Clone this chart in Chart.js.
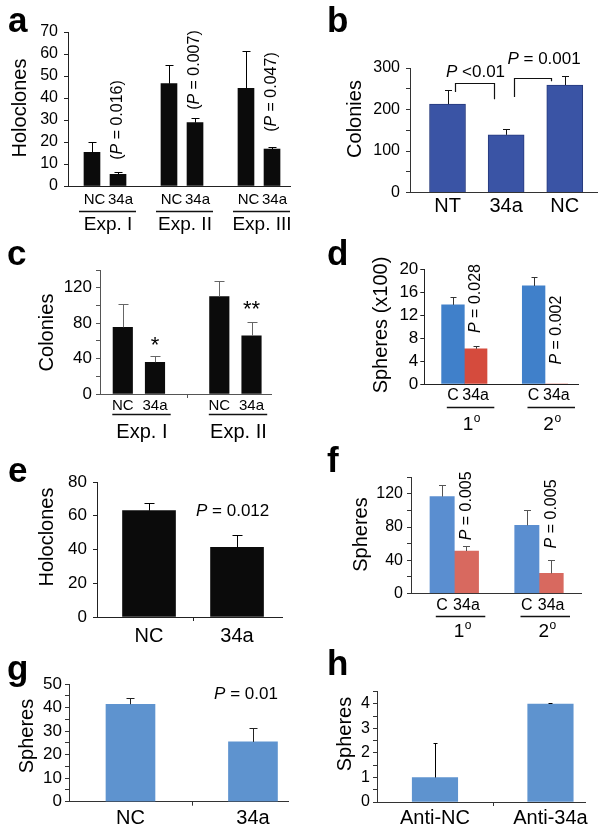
<!DOCTYPE html>
<html>
<head>
<meta charset="utf-8">
<title>miR-34a sphere / colony panels</title>
<script src="https://cdn.jsdelivr.net/npm/chart.js@4.4.1/dist/chart.umd.min.js"></script>
<style>
  html, body { margin: 0; padding: 0; background: #fff; }
  #wrap { position: relative; width: 603px; height: 831px; overflow: hidden; background: #fff; }
  #wrap canvas { position: absolute; left: 0; top: 0; }
</style>
</head>
<body>
<div id="wrap"></div>
<script>
// ================= DATA =================
// Panel a – holoclones
const aGroups = ['Exp. I', 'Exp. II', 'Exp. III'];
const aSeriesNames = ['NC', '34a'];
const aNC = [15.3, 46.5, 44.4];
const aNCErr = [4.5, 8.5, 17.0];
const a34a = [5.3, 28.8, 16.8];
const a34aErr = [1.2, 2.0, 1.1];
const aYTicks = [0, 10, 20, 30, 40, 50, 60, 70];
const aPValues = ['(P = 0.016)', '(P = 0.007)', '(P = 0.047)'];
const aPHeights = [30, 52.7, 42.7];

// Panel b – colonies
const bCats = ['NT', '34a', 'NC'];
const bColonies = [213, 139, 259];
const bErr = [34, 14, 22];
const bYTicks = [0, 50, 100, 150, 200, 250, 300];
const bYLabels = [0, 100, 200, 300];
const bPValues = ['P <0.01', 'P = 0.001'];

// Panel c – colonies
const cGroups = ['Exp. I', 'Exp. II'];
const cSeriesNames = ['NC', '34a'];
const cNC = [75.3, 109.9];
const cNCErr = [26.0, 18.0];
const c34a = [35.8, 65.8];
const c34aErr = [7.4, 15.8];
const cYTicks = [0, 20, 40, 60, 80, 100, 120, 140];
const cYLabels = [0, 40, 80, 120];
const cStars = ['*', '**'];

// Panel d – spheres (x100)
const dGroups = ['1°', '2°'];
const dSeriesNames = ['C', '34a'];
const dC = [13.8, 17.1];
const dCErr = [1.3, 1.6];
const d34a = [6.15, 0];
const d34aErr = [0.55, 0];
const dYTicks = [0, 4, 8, 12, 16, 20];
const dPValues = ['P = 0.028', 'P = 0.002'];

// Panel e – holoclones
const eCats = ['NC', '34a'];
const eHoloclones = [63.0, 41.3];
const eErr = [4.7, 7.3];
const eYTicks = [0, 20, 40, 60, 80];
const ePValue = 'P = 0.012';

// Panel f – spheres
const fGroups = ['1°', '2°'];
const fSeriesNames = ['C', '34a'];
const fC = [116.7, 82.0];
const fCErr = [13.8, 18.6];
const f34a = [51.0, 24.0];
const f34aErr = [6.0, 16.0];
const fYTicks = [0, 20, 40, 60, 80, 100, 120, 140];
const fYLabels = [0, 40, 80, 120];
const fPValues = ['P = 0.005', 'P = 0.005'];

// Panel g – spheres
const gCats = ['NC', '34a'];
const gSpheres = [41.4, 25.4];
const gErr = [2.6, 5.8];
const gYTicks = [0, 5, 10, 15, 20, 25, 30, 35, 40, 45, 50];
const gYLabels = [0, 10, 20, 30, 40, 50];
const gPValue = 'P = 0.01';

// Panel h – spheres
const hCats = ['Anti-NC', 'Anti-34a'];
const hSpheres = [1.0, 4.0];
const hErr = [1.4, 0.02];
const hYTicks = [0, 0.5, 1, 1.5, 2, 2.5, 3, 3.5, 4, 4.5];
const hYLabels = [0, 1, 2, 3, 4];

// ================= DRAWING =================
const W = 603, H = 831;
const FONT = '"Liberation Sans", Arial, Helvetica, sans-serif';
Chart.defaults.font.family = FONT;
Chart.defaults.color = '#000';

function drawRich(ctx, str, cx, cy, size, rot) {
  const i = str.indexOf('P');
  const parts = i < 0 ? [{t: str, it: false}] :
    [{t: str.slice(0, i), it: false}, {t: 'P', it: true}, {t: str.slice(i + 1), it: false}].filter(p => p.t);
  ctx.save();
  ctx.translate(cx, cy);
  if (rot) ctx.rotate(-Math.PI / 2);
  ctx.fillStyle = '#000';
  ctx.textAlign = 'left';
  ctx.textBaseline = 'middle';
  let w = 0;
  parts.forEach(p => { ctx.font = (p.it ? 'italic ' : '') + size + 'px ' + FONT; p.w = ctx.measureText(p.t).width; w += p.w; });
  let x = -w / 2;
  parts.forEach(p => { ctx.font = (p.it ? 'italic ' : '') + size + 'px ' + FONT; ctx.fillText(p.t, x, 0); x += p.w; });
  ctx.restore();
}

function drawGroupLabel(ctx, name, cx, cy, size) {
  ctx.save();
  ctx.fillStyle = '#000';
  if (name.endsWith('°')) {
    const base = name.slice(0, -1);
    const sup = Math.round(size * 0.62);
    ctx.font = size + 'px ' + FONT;
    const wb = ctx.measureText(base).width;
    ctx.font = sup + 'px ' + FONT;
    const ws = ctx.measureText('o').width;
    const x0 = cx - (wb + ws) / 2;
    const capH = 0.716 * size;
    const baseY = cy + capH / 2;
    ctx.textAlign = 'left';
    ctx.textBaseline = 'alphabetic';
    ctx.font = size + 'px ' + FONT;
    ctx.fillText(base, x0, baseY);
    ctx.font = sup + 'px ' + FONT;
    ctx.fillText('o', x0 + wb + 0.5, baseY - capH + 0.519 * sup);
  } else {
    ctx.font = size + 'px ' + FONT;
    ctx.textAlign = 'center';
    ctx.textBaseline = 'middle';
    ctx.fillText(name, cx, cy);
  }
  ctx.restore();
}

function makePanel(sp) {
  const cv = document.createElement('canvas');
  cv.width = W; cv.height = H;
  document.getElementById('wrap').appendChild(cv);
  const grouped = !!sp.groups;
  const n = sp.series.length;
  const nPos = grouped ? sp.groups.length : sp.cats.length;
  const barX = (g, s) => grouped ? g + (s - (n - 1) / 2) * 2 * sp.off : g;
  const A = sp.area;
  const unitPx = (A.r - A.l) / (sp.xmax - sp.xmin);
  const shift = (sp.tickShift || 0) / unitPx;
  const tickPos = [], tickLab = [];
  for (let g = 0; g < nPos; g++) {
    if (grouped) sp.series.forEach((s, si) => { tickPos.push(barX(g, si) + shift); tickLab.push(s.name); });
    else { tickPos.push(g + shift); tickLab.push(sp.cats[g]); }
  }
  const datasets = sp.series.map((s, si) => ({
    label: s.name,
    data: s.values.map((v, g) => ({x: barX(g, si), y: v})),
    backgroundColor: s.color,
    borderColor: s.border || s.color,
    borderWidth: s.border ? 1 : 0,
    barThickness: sp.barW,
    grouped: false
  }));
  const plugin = {
    id: 'panelExtras' + sp.letter,
    afterDatasetsDraw(chart) {
      const ctx = chart.ctx, xs = chart.scales.x, ys = chart.scales.y, ca = chart.chartArea;
      // small separator ticks under the x axis between categories / groups
      if (sp.midTicks) {
        ctx.save();
        ctx.strokeStyle = sp.axis;
        ctx.lineWidth = 1;
        ctx.beginPath();
        for (let g = 0; g < nPos - 1; g++) {
          const x = Math.round(xs.getPixelForValue(g + 0.5)) + 0.5;
          ctx.moveTo(x, ca.bottom);
          ctx.lineTo(x, ca.bottom + 4);
        }
        ctx.stroke();
        ctx.restore();
      }
      chart.data.datasets.forEach((ds, di) => {
        const meta = chart.getDatasetMeta(di);
        const errs = sp.series[di].err;
        meta.data.forEach((el, i) => {
          const e = errs[i];
          if (!e) return;
          const v = ds.data[i].y;
          const x = Math.round(el.x) + 0.5;
          const y1 = Math.round(ys.getPixelForValue(v + e)) + 0.5;
          ctx.save();
          ctx.strokeStyle = sp.errColor;
          ctx.lineWidth = 1;
          ctx.beginPath();
          ctx.moveTo(x, el.y);
          ctx.lineTo(x, y1);
          ctx.moveTo(x - sp.cap / 2, y1);
          ctx.lineTo(x + sp.cap / 2, y1);
          ctx.stroke();
          ctx.restore();
        });
      });
    },
    afterDraw(chart) {
      const ctx = chart.ctx, xs = chart.scales.x, ys = chart.scales.y, ca = chart.chartArea;
      ctx.save();
      ctx.fillStyle = '#000';
      ctx.font = 'bold 35px ' + FONT;
      ctx.textAlign = 'left';
      ctx.textBaseline = 'alphabetic';
      ctx.fillText(sp.letter, sp.letterAt[0], sp.letterAt[1]);
      ctx.translate(sp.title.x, sp.title.y);
      ctx.rotate(-Math.PI / 2);
      ctx.font = '20px ' + FONT;
      ctx.textAlign = 'center';
      ctx.textBaseline = 'middle';
      ctx.fillText(sp.title.text, 0, 0);
      ctx.restore();
      if (grouped) {
        sp.groups.forEach((name, g) => {
          const cx = xs.getPixelForValue(g);
          const uy = Math.round(ca.bottom + sp.ul.dy) + 0.5;
          ctx.save();
          ctx.strokeStyle = '#111';
          ctx.lineWidth = 1.4;
          ctx.beginPath();
          ctx.moveTo(cx + sp.ul.x0, uy);
          ctx.lineTo(cx + sp.ul.x1, uy);
          ctx.stroke();
          ctx.restore();
          drawGroupLabel(ctx, name, cx + sp.gl.dx, ca.bottom + sp.gl.dy, sp.gl.size);
        });
      }
      (sp.notes || []).forEach(nt => {
        const x = nt.bar ? barX(nt.bar[0], nt.bar[1]) : nt.x;
        drawRich(ctx, nt.text, xs.getPixelForValue(x), ys.getPixelForValue(nt.y), nt.size, nt.rot);
      });
      (sp.brackets || []).forEach(b => {
        const x1 = Math.round(xs.getPixelForValue(b.x1)) + 0.5;
        const x2 = Math.round(xs.getPixelForValue(b.x2)) + 0.5;
        const yt = Math.round(ys.getPixelForValue(b.top)) + 0.5;
        ctx.save();
        ctx.strokeStyle = '#111';
        ctx.lineWidth = 1.2;
        ctx.beginPath();
        ctx.moveTo(x1, ys.getPixelForValue(b.yl));
        ctx.lineTo(x1, yt);
        ctx.lineTo(x2, yt);
        ctx.lineTo(x2, ys.getPixelForValue(b.yr));
        ctx.stroke();
        ctx.restore();
      });
    }
  };
  const xBoxH = H - A.b;
  new Chart(cv, {
    type: 'bar',
    data: {datasets},
    plugins: [plugin],
    options: {
      responsive: false,
      animation: false,
      events: [],
      layout: {autoPadding: false, padding: {left: A.l - 40, top: A.t, right: W - A.r, bottom: 0}},
      plugins: {legend: {display: false}, tooltip: {enabled: false}, title: {display: false}},
      scales: {
        x: {
          type: 'linear', min: sp.xmin, max: sp.xmax, bounds: 'data', offset: false,
          afterBuildTicks: ax => { ax.ticks = tickPos.map(v => ({value: v})); },
          afterFit: ax => { ax.height = xBoxH; },
          ticks: {autoSkip: false, maxRotation: 0, minRotation: 0, padding: sp.xPad, color: '#000',
                  font: {family: FONT, size: sp.xFont}, callback: (v, i) => tickLab[i]},
          grid: {display: false, drawTicks: false, offset: false},
          border: {display: true, color: sp.axis, width: 1}
        },
        y: {
          type: 'linear', min: 0, max: sp.ymax, bounds: 'data',
          afterBuildTicks: ax => { ax.ticks = sp.yTicks.map(v => ({value: v})); },
          afterFit: ax => { ax.width = 40; },
          ticks: {autoSkip: false, padding: sp.yPad, color: '#000', font: {family: FONT, size: sp.yFont},
                  callback: v => sp.yLabels.includes(v) ? String(v) : ''},
          grid: {display: true, drawOnChartArea: false, drawTicks: true, tickLength: 4, color: sp.axis, lineWidth: 1},
          border: {display: true, color: sp.axis, width: 1}
        }
      }
    }
  });
}

const BLACK = '#0b0b0b';
const specs = [
  { letter: 'a', letterAt: [8, 32], area: {l: 68, t: 32, r: 290, b: 186}, ymax: 70, yTicks: aYTicks, yLabels: aYTicks,
    groups: aGroups, off: 0.169, barW: 16, tickShift: 2.5,
    series: [{name: aSeriesNames[0], values: aNC, err: aNCErr, color: BLACK},
             {name: aSeriesNames[1], values: a34a, err: a34aErr, color: BLACK}],
    xmin: -0.4805, xmax: 2.4026, xFont: 15, xPad: 4.5, yFont: 16, yPad: 6, axis: '#222', errColor: '#000', cap: 8,
    title: {text: 'Holoclones', x: 20, y: 108},
    ul: {dy: 25, x0: -26, x1: 31}, gl: {dy: 39, dx: 3, size: 19},
    notes: aPValues.map((t, g) => ({text: t, bar: [g, 1], y: aPHeights[g], size: 16, rot: true})) },
  { letter: 'b', letterAt: [327, 32], area: {l: 410, t: 68, r: 597, b: 192.5}, ymax: 300, yTicks: bYTicks, yLabels: bYLabels,
    cats: bCats, barW: 36,
    series: [{name: 'Colonies', values: bColonies, err: bErr, color: '#3a54a5', border: '#26397c'}],
    xmin: -0.64, xmax: 2.55, xFont: 20, xPad: 2, yFont: 16, yPad: 6, axis: '#333', errColor: '#111', cap: 7,
    title: {text: 'Colonies', x: 355, y: 119},
    notes: [{text: bPValues[0], x: 0.478, y: 290, size: 17}, {text: bPValues[1], x: 1.647, y: 321, size: 17}],
    brackets: [{x1: 0.128, x2: 0.794, top: 263, yl: 242, yr: 225}, {x1: 1.135, x2: 1.766, top: 275, yl: 230, yr: 268}] },
  { letter: 'c', letterAt: [7, 265], area: {l: 100, t: 270, r: 271.7, b: 394}, ymax: 140, yTicks: cYTicks, yLabels: cYLabels,
    groups: cGroups, off: 0.1668, barW: 19.5, midTicks: true,
    series: [{name: cSeriesNames[0], values: cNC, err: cNCErr, color: BLACK},
             {name: cSeriesNames[1], values: c34a, err: c34aErr, color: BLACK}],
    xmin: -0.403, xmax: 1.376, xFont: 15, xPad: 2.5, yFont: 17, yPad: 4, axis: '#555', errColor: '#666', cap: 10,
    title: {text: 'Colonies', x: 47, y: 332.5},
    ul: {dy: 20, x0: -26.6, x1: 31.8}, gl: {dy: 38, dx: 3, size: 20},
    notes: [{text: cStars[0], bar: [0, 1], y: 54, size: 22}, {text: cStars[1], bar: [1, 1], y: 95.4, size: 22}] },
  { letter: 'd', letterAt: [327, 265], area: {l: 424.3, t: 269.3, r: 578.3, b: 384}, ymax: 20, yTicks: dYTicks, yLabels: dYTicks,
    groups: dGroups, off: 0.1406, barW: 22.7,
    series: [{name: dSeriesNames[0], values: dC, err: dCErr, color: '#4080ca'},
             {name: dSeriesNames[1], values: d34a, err: d34aErr, color: '#d54b3d'}],
    xmin: -0.496, xmax: 1.413, xFont: 16, xPad: 1.5, yFont: 17, yPad: 2, axis: '#222', errColor: '#333', cap: 6,
    title: {text: 'Spheres (x100)', x: 381.7, y: 325},
    ul: {dy: 22.7, x0: -17.5, x1: 30}, gl: {dy: 39, dx: 7, size: 19},
    notes: [{text: dPValues[0], bar: [0, 1], y: 14.9, size: 16, rot: true}, {text: dPValues[1], bar: [1, 1], y: 9.4, size: 16, rot: true}] },
  { letter: 'e', letterAt: [8, 482], area: {l: 97, t: 482, r: 282, b: 617}, ymax: 80, yTicks: eYTicks, yLabels: eYTicks,
    cats: eCats, barW: 53, midTicks: true,
    series: [{name: 'Holoclones', values: eHoloclones, err: eErr, color: BLACK}],
    xmin: -0.591, xmax: 1.511, xFont: 20, xPad: 7, yFont: 17, yPad: 6, axis: '#222', errColor: '#000', cap: 10,
    title: {text: 'Holoclones', x: 47, y: 537},
    notes: [{text: ePValue, x: 0.95, y: 62.8, size: 17}] },
  { letter: 'f', letterAt: [327, 472], area: {l: 411, t: 477.3, r: 581.7, b: 593.3}, ymax: 140, yTicks: fYTicks, yLabels: fYLabels,
    groups: fGroups, off: 0.1434, barW: 24.3,
    series: [{name: fSeriesNames[0], values: fC, err: fCErr, color: '#5a8ed0'},
             {name: fSeriesNames[1], values: f34a, err: f34aErr, color: '#d8695f'}],
    xmin: -0.511, xmax: 1.504, xFont: 16, xPad: 2.6, yFont: 16, yPad: 4, axis: '#333', errColor: '#555', cap: 7,
    title: {text: 'Spheres', x: 361.7, y: 534.5},
    ul: {dy: 22.7, x0: -18.5, x1: 31}, gl: {dy: 36.7, dx: 8, size: 19},
    notes: [{text: fPValues[0], bar: [0, 1], y: 105.5, size: 16, rot: true}, {text: fPValues[1], bar: [1, 1], y: 95.8, size: 16, rot: true}] },
  { letter: 'g', letterAt: [7, 680], area: {l: 69, t: 684, r: 288, b: 801.7}, ymax: 50, yTicks: gYTicks, yLabels: gYLabels,
    cats: gCats, barW: 49, midTicks: true,
    series: [{name: 'Spheres', values: gSpheres, err: gErr, color: '#5e93cf'}],
    xmin: -0.502, xmax: 1.286, xFont: 20, xPad: 4.3, yFont: 17, yPad: 3, axis: '#333', errColor: '#222', cap: 8,
    title: {text: 'Spheres', x: 27, y: 736},
    notes: [{text: gPValue, x: 0.943, y: 45.8, size: 17}] },
  { letter: 'h', letterAt: [327, 675], area: {l: 377, t: 691.7, r: 585, b: 802}, ymax: 4.5, yTicks: hYTicks, yLabels: hYLabels,
    cats: hCats, barW: 45.5, midTicks: true,
    series: [{name: 'Spheres', values: hSpheres, err: hErr, color: '#5e93cf'}],
    xmin: -0.502, xmax: 1.299, xFont: 20, xPad: 4, yFont: 16, yPad: 3, axis: '#333', errColor: '#000', cap: 4,
    title: {text: 'Spheres', x: 345, y: 734} }
];
specs.forEach(makePanel);
</script>
</body>
</html>
